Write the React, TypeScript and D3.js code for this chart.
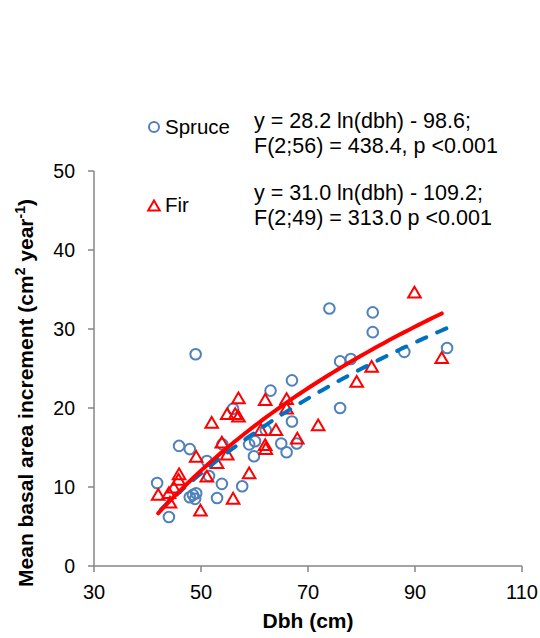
import React from "react";
import * as d3 from "d3";

const spruceDbh = [41.8, 44.0, 45.9, 47.9, 47.9, 48.5, 49.1, 48.9, 49.0, 51.1, 51.5, 53.0, 53.9, 54.0, 56.0, 57.7, 59.0, 60.1, 59.9, 62.1, 63.0, 65.0, 66.0, 67.0, 67.0, 67.9, 74.0, 76.0, 76.0, 78.0, 82.1, 82.1, 88.0, 96.0];
const spruceBai = [10.5, 6.2, 15.2, 14.8, 8.7, 9.0, 9.2, 8.5, 26.8, 13.3, 11.4, 8.6, 10.4, 15.4, 19.9, 10.1, 15.4, 15.8, 13.9, 17.2, 22.2, 15.5, 14.4, 18.3, 23.5, 15.5, 32.6, 20.0, 25.9, 26.2, 32.1, 29.6, 27.1, 27.6];

const firDbh = [42.0, 44.0, 44.2, 44.9, 45.8, 45.9, 49.1, 49.9, 51.1, 52.0, 53.0, 53.9, 54.9, 54.9, 56.0, 56.4, 57.0, 57.0, 59.0, 61.2, 62.0, 62.0, 62.1, 64.0, 66.0, 66.0, 68.0, 71.9, 79.1, 81.9, 89.9, 95.0];
const firBai = [9.0, 9.2, 8.0, 9.9, 10.9, 11.6, 13.8, 7.0, 11.3, 18.1, 13.0, 15.6, 14.1, 19.2, 8.5, 19.2, 21.2, 18.9, 11.7, 17.2, 21.0, 15.3, 14.8, 17.2, 21.1, 19.9, 16.1, 17.8, 23.3, 25.2, 34.6, 26.3];

const xTicks = [30, 50, 70, 90, 110];
const yTicks = [0, 10, 20, 30, 40, 50];

// regression coefficients as printed on the chart: y = a ln(dbh) + b
const spruceFit = { a: 28.2, b: -98.6, from: 42.5, to: 96 };
const firFit = { a: 31.0, b: -109.2, from: 42, to: 95 };

const spruceEq = ["y = 28.2 ln(dbh) - 98.6;", "F(2;56) = 438.4, p <0.001"];
const firEq = ["y = 31.0 ln(dbh) - 109.2;", "F(2;49) = 313.0 p <0.001"];

const FONT = "Liberation Sans, Arial, sans-serif";
const AXIS = "#868686";
const BLUE = "#4F81BD";
const RED = "#FF0000";
const DASH_BLUE = "#0070C0";

export default function App() {
  const W = 540, H = 638;
  const x = d3.scaleLinear().domain([30, 110]).range([94, 522]);
  const y = d3.scaleLinear().domain([0, 50]).range([566, 171]);

  const fitPath = (f: { a: number; b: number; from: number; to: number }) => {
    const pts = d3.range(0, 61).map((i) => {
      const d = f.from + ((f.to - f.from) * i) / 60;
      return [d, f.a * Math.log(d) + f.b] as [number, number];
    });
    return d3.line<[number, number]>().x((p) => x(p[0])).y((p) => y(p[1])).curve(d3.curveMonotoneX)(pts) || "";
  };

  const tri = (cx: number, cy: number, s = 6) =>
    `M${cx},${cy - s} L${cx + s * 1.05},${cy + s * 0.8} L${cx - s * 1.05},${cy + s * 0.8} Z`;

  return (
    <svg width={W} height={H} style={{ position: "absolute", left: 0, top: 0, background: "#fff" }} fontFamily={FONT}>
      {/* axes */}
      <line x1={x(30)} x2={x(110)} y1={y(0)} y2={y(0)} stroke={AXIS} strokeWidth={1.5} />
      <line x1={x(30)} x2={x(30)} y1={y(0)} y2={y(50)} stroke={AXIS} strokeWidth={1.5} />
      {xTicks.map((t) => (
        <g key={"xt" + t}>
          <line x1={x(t)} x2={x(t)} y1={y(0)} y2={y(0) + 6} stroke={AXIS} strokeWidth={1.5} />
          <text x={x(t)} y={599} fontSize={20} textAnchor="middle" fill="#000">{t}</text>
        </g>
      ))}
      {yTicks.map((t) => (
        <g key={"yt" + t}>
          <line x1={x(30) - 6} x2={x(30)} y1={y(t)} y2={y(t)} stroke={AXIS} strokeWidth={1.5} />
          <text x={75} y={y(t) + 7} fontSize={19.5} textAnchor="end" fill="#000">{t}</text>
        </g>
      ))}
      <text x={308} y={628} fontSize={21} fontWeight="bold" textAnchor="middle">Dbh (cm)</text>
      <text transform={`translate(33,393) rotate(-90)`} fontSize={21} fontWeight="bold" textAnchor="middle">
        Mean basal area increment (cm<tspan dy={-8} fontSize={14}>2</tspan>
        <tspan dy={8}> year</tspan>
        <tspan dy={-8} fontSize={14}>-1</tspan>
        <tspan dy={8}>)</tspan>
      </text>

      {/* points */}
      {spruceDbh.map((d, i) => (
        <circle key={"s" + i} cx={x(d)} cy={y(spruceBai[i])} r={5.3} fill="none" stroke={BLUE} strokeWidth={2} />
      ))}
      {firDbh.map((d, i) => (
        <path key={"f" + i} d={tri(x(d), y(firBai[i]))} fill="none" stroke={RED} strokeWidth={2} />
      ))}

      {/* fitted curves */}
      <path d={fitPath(spruceFit)} fill="none" stroke={DASH_BLUE} strokeWidth={4} strokeDasharray="10 12" strokeLinecap="round" />
      <path d={fitPath(firFit)} fill="none" stroke={RED} strokeWidth={4} strokeLinecap="round" />

      {/* legend */}
      <circle cx={154} cy={127} r={5} fill="none" stroke={BLUE} strokeWidth={2} />
      <text x={165} y={134} fontSize={20.5}>Spruce</text>
      <path d={tri(154, 206, 5.5)} fill="none" stroke={RED} strokeWidth={2} />
      <text x={165} y={212} fontSize={20.5}>Fir</text>
      {spruceEq.map((s, i) => (
        <text key={"se" + i} x={254} y={128 + i * 24.5} fontSize={21.5}>{s}</text>
      ))}
      {firEq.map((s, i) => (
        <text key={"fe" + i} x={254} y={200 + i * 24.5} fontSize={21.5}>{s}</text>
      ))}
    </svg>
  );
}
